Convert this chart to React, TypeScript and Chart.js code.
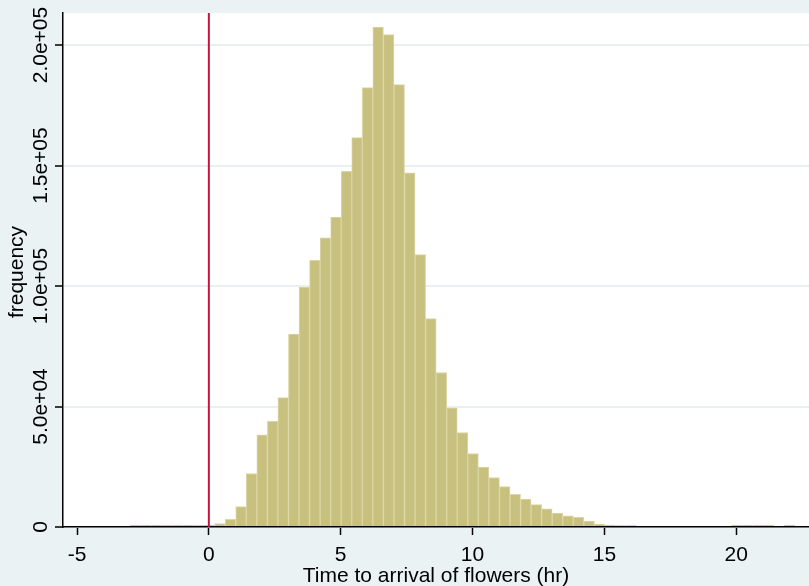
import React, { useEffect, useRef } from "react";
import { Chart, registerables } from "chart.js";

Chart.register(...registerables);

// Histogram bins (hours): first bin starts at binStart, each binWidth wide
const binStart = -2.98;
const binWidth = 0.4;
const frequency: number[] = [
  700, 700, 700, 700, 700, 700, 650, 700, 1400, 3200,
  8500, 22200, 38300, 43900, 53700, 80100, 99600, 110700, 120000, 128600,
  147600, 161600, 182300, 207500, 204300, 183600, 147000, 113000, 86500, 64100,
  49500, 39200, 30500, 24900, 20500, 16800, 13600, 11600, 9300, 7500,
  5800, 4600, 4000, 2500, 1100, 700, 600, 600, 0, 0,
  0, 0, 0, 0, 0, 0, 0, 700, 700, 700,
  700, 0, 700,
];
const binCenters: number[] = frequency.map((_, i) => binStart + binWidth * (i + 0.5));

const xTickValues: number[] = [-5, 0, 5, 10, 15, 20];
const xTickLabels: string[] = ["-5", "0", "5", "10", "15", "20"];
const yTickValues: number[] = [0, 50000, 100000, 150000, 200000];
const yTickLabels: string[] = ["0", "5.0e+04", "1.0e+05", "1.5e+05", "2.0e+05"];
const xTitle = "Time to arrival of flowers (hr)";
const yTitle = "frequency";
const refLineX = 0;

const xMin = -5.531;
const xMax = 22.76;
const yMax = 213300;

const FONT = '"Liberation Sans", Arial, sans-serif';

const stataPlugin = {
  id: "stataLook",
  beforeDraw(chart: any) {
    const { ctx, chartArea } = chart;
    ctx.save();
    ctx.fillStyle = "#eaf2f3";
    ctx.fillRect(0, 0, chart.width, chart.height);
    ctx.fillStyle = "#ffffff";
    ctx.fillRect(chartArea.left, chartArea.top, chartArea.right - chartArea.left, chartArea.bottom - chartArea.top);
    ctx.restore();
  },
  afterDraw(chart: any) {
    const { ctx, chartArea, scales } = chart;
    ctx.save();
    ctx.fillStyle = "#000000";
    ctx.font = `21px ${FONT}`;
    ctx.textAlign = "center";
    ctx.textBaseline = "alphabetic";
    xTickValues.forEach((v, i) => {
      ctx.fillText(xTickLabels[i], scales.x.getPixelForValue(v), 561);
    });
    ctx.fillText(xTitle, (chartArea.left + chartArea.right) / 2, 582);
    yTickValues.forEach((v, i) => {
      ctx.save();
      ctx.translate(46.5, scales.y.getPixelForValue(v));
      ctx.rotate(-Math.PI / 2);
      ctx.fillText(yTickLabels[i], 0, 0);
      ctx.restore();
    });
    ctx.save();
    ctx.translate(23, (chartArea.top + chartArea.bottom) / 2 + 2);
    ctx.rotate(-Math.PI / 2);
    ctx.fillText(yTitle, 0, 0);
    ctx.restore();
    ctx.restore();
  },
};

export default function App() {
  const canvasRef = useRef<HTMLCanvasElement | null>(null);

  useEffect(() => {
    if (!canvasRef.current) return;
    const chart = new Chart(canvasRef.current, {
      type: "bar",
      data: {
        datasets: [
          {
            type: "line",
            data: [
              { x: refLineX, y: 0 },
              { x: refLineX, y: yMax },
            ],
            borderColor: "#c8143c",
            borderWidth: 2,
            pointRadius: 0,
            order: 0,
          } as any,
          {
            type: "bar",
            data: binCenters.map((c, i) => ({ x: c, y: frequency[i] })),
            backgroundColor: "#c8c07e",
            borderColor: "#dbd6a5",
            borderWidth: 1,
            borderSkipped: "start",
            categoryPercentage: 1,
            barPercentage: 1,
            order: 1,
          } as any,
        ],
      },
      options: {
        animation: false,
        responsive: false,
        layout: { padding: { top: 13, left: 0, right: 0, bottom: 0 } },
        plugins: { legend: { display: false }, tooltip: { enabled: false } },
        scales: {
          x: {
            type: "linear",
            bounds: "data",
            min: xMin,
            max: xMax,
            offset: false,
            z: 1,
            afterBuildTicks: (s: any) => {
              s.min = xMin;
              s.max = xMax;
              s.ticks = xTickValues.map((v) => ({ value: v }));
            },
            afterFit: (s: any) => {
              s.height = 59;
            },
            ticks: { display: false },
            grid: {
              display: true,
              drawOnChartArea: false,
              drawTicks: true,
              tickLength: 8,
              tickColor: "#000000",
              tickWidth: 1.5,
              offset: false,
            },
            border: { display: true, color: "#000000", width: 1.5 },
          },
          y: {
            type: "linear",
            bounds: "data",
            min: 0,
            max: yMax,
            afterBuildTicks: (s: any) => {
              s.min = 0;
              s.max = yMax;
              s.ticks = yTickValues.map((v) => ({ value: v }));
            },
            afterFit: (s: any) => {
              s.width = 63;
            },
            ticks: { display: false },
            grid: {
              display: true,
              color: "#e9f0f2",
              lineWidth: 2,
              drawTicks: true,
              tickLength: 8,
              tickColor: "#000000",
              tickWidth: 1.5,
            },
            border: { display: true, color: "#000000", width: 1.5 },
          },
        },
      },
      plugins: [stataPlugin],
    });
    return () => chart.destroy();
  }, []);

  return (
    <div style={{ position: "absolute", left: 0, top: 0, width: 809, height: 586 }}>
      <canvas ref={canvasRef} width={809} height={586} style={{ display: "block" }} />
    </div>
  );
}
